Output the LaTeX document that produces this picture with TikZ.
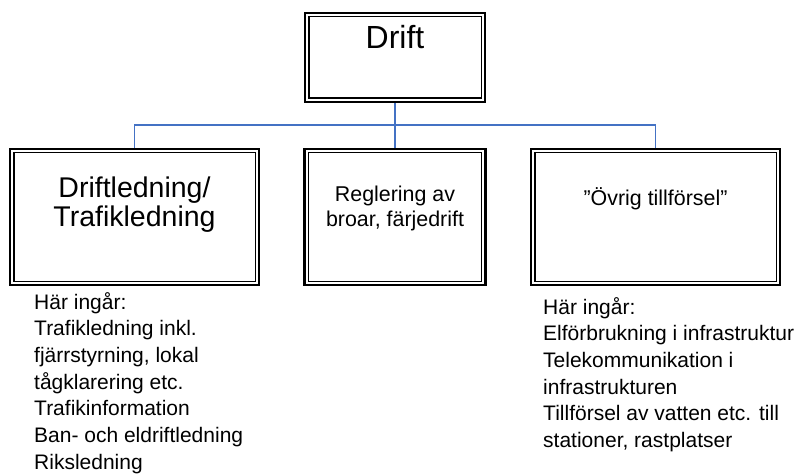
\documentclass[tikz,border=0pt]{standalone}
\usepackage{fontspec}
\setmainfont{Liberation Sans}
\usetikzlibrary{calc,positioning}
\definecolor{azul}{RGB}{68,114,196}
\tikzstyle{caja}  =[draw, line width=2.2pt, inner sep=0pt,
                    minimum height=136pt]
\tikzstyle{marco} =[line width=1.2pt]
\tikzstyle{enlace}=[azul, line width=1.5pt]
\tikzstyle{nota}  =[align=left, inner sep=0pt, anchor=north west,
                    font=\fontsize{21}{26.7}\selectfont]

\begin{document}
\begin{tikzpicture}[x=1pt,y=-1pt]
    \useasboundingbox (0,0) rectangle (799,473);

    \draw (395,57.5) node (drift) [caja, minimum width=180pt, minimum height=89pt,
        label={[anchor=base, yshift=-37pt, font=\fontsize{32}{38}\selectfont]north:Drift}] {};
    \draw (134.5,217) node (ledning) [caja, minimum width=249pt,
        label={[anchor=north, yshift=-25pt, align=center, font=\fontsize{28.5}{29}\selectfont]north:Driftledning/\\Trafikledning}] {};
    \draw (395,217) node (reglering) [caja, minimum width=181pt,
        label={[anchor=north, yshift=-35pt, align=center, font=\fontsize{21.4}{24.5}\selectfont]north:Reglering av\\broar, färjedrift}] {};
    \draw (655.5,217) node (ovrig) [caja, minimum width=249pt,
        label={[anchor=base, yshift=-58pt, font=\fontsize{21.4}{25}\selectfont]north:”Övrig tillförsel”}] {};

    % inner frame of each double box
    \foreach \n in {drift,ledning,reglering,ovrig}
        \draw [marco] ($(\n.north west)+(5,5)$) rectangle ($(\n.south east)+(-5,-5)$);

    \coordinate (bus) at (395,125);
    \draw [enlace] (drift.south) -- (bus);
    \draw [enlace] (ledning.north) |- (bus) -| (ovrig.north);
    \draw [enlace] (bus) -- (reglering.north);

    \node (notaizq) [nota] at (34,292) {Här ingår:\\Trafikledning inkl.\\fjärrstyrning, lokal\\tågklarering etc.\\Trafikinformation\\Ban- och eldriftledning\\Riksledning};
    \node (notader) [nota] at (543,297) {Här ingår:\\Elförbrukning i infrastruktur\\Telekommunikation i\\infrastrukturen\\Tillförsel av vatten etc. till\\stationer, rastplatser};
\end{tikzpicture}
\end{document}
